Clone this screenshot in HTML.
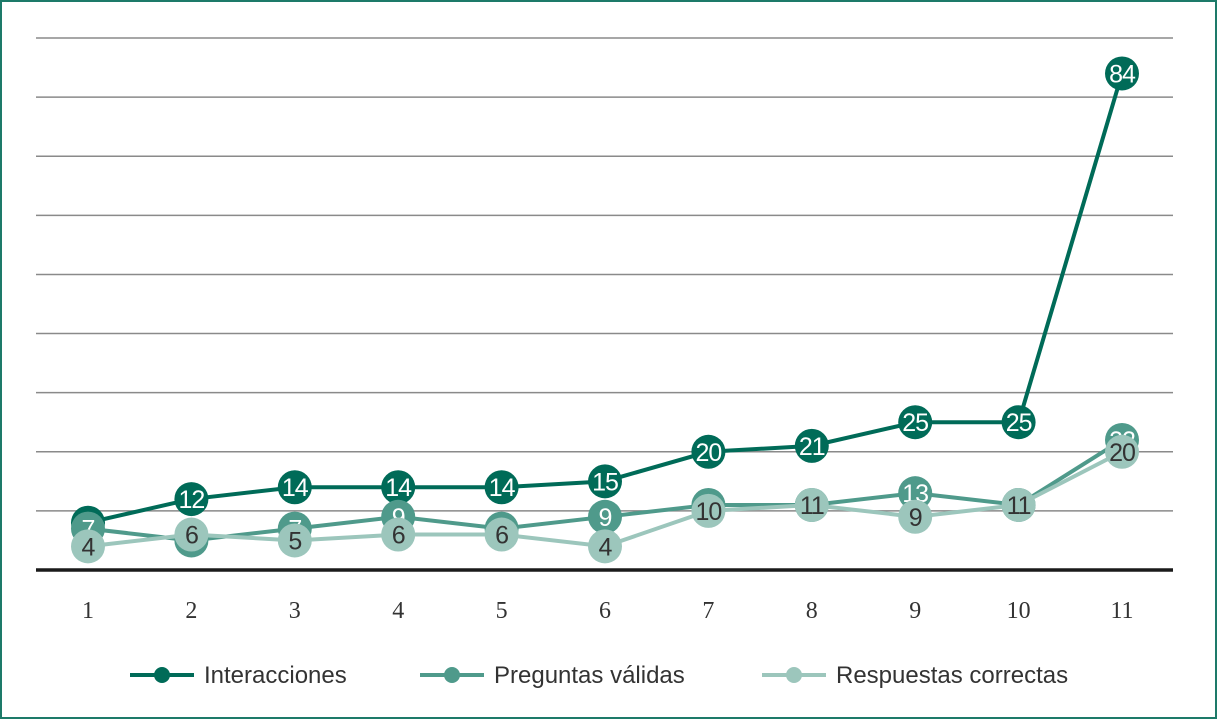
<!DOCTYPE html>
<html><head><meta charset="utf-8"><style>
body{margin:0;background:#fff;}
svg{display:block;font-family:"Liberation Sans",sans-serif;}
</style></head><body>
<svg id="chart" width="1218" height="727">
<rect x="1" y="1" width="1215" height="717" fill="#fff" stroke="#1d7a69" stroke-width="2"/>
<g id="grid"></g><g id="series"></g><g id="xaxis"></g><g id="legend"></g>
</svg>
<script>
const categories=["1","2","3","4","5","6","7","8","9","10","11"];
const interacciones=[8,12,14,14,14,15,20,21,25,25,84];
const preguntas=[7,5,7,9,7,9,11,11,13,11,22];
const respuestas=[4,6,5,6,6,4,10,11,9,11,20];
const gridTicks=[10,20,30,40,50,60,70,80,90];
const seriesNames=["Interacciones","Preguntas válidas","Respuestas correctas"];
const NS="http://www.w3.org/2000/svg";
const x0=88,x1=1122,yBase=570,yTop=38,vMax=90;
const xs=i=>x0+i*(x1-x0)/(categories.length-1);
const ys=v=>yBase-v*(yBase-yTop)/vMax;
function mk(tag,attrs,parent){const e=document.createElementNS(NS,tag);for(const k in attrs)e.setAttribute(k,attrs[k]);parent.appendChild(e);return e;}
const grid=document.getElementById('grid');
gridTicks.forEach(t=>{const l=mk('line',{x1:36,x2:1173,y1:ys(t),y2:ys(t),stroke:'#8a8a8a','stroke-width':1.5},grid);

});
const base=mk('line',{x1:36,x2:1173,y1:yBase,y2:yBase,stroke:'#1a1a1a','stroke-width':3.5},grid);


const xa=document.getElementById('xaxis');
categories.forEach((c,i)=>{const t=mk('text',{x:xs(i),y:618,'text-anchor':'middle','font-size':24,fill:'#333','font-family':'Liberation Serif, serif'},xa);t.textContent=c;

});
const sg=document.getElementById('series');
const specs=[[interacciones,'#006b58','#fff'],[preguntas,'#4f9a8b','#fff'],[respuestas,'#9cc6bc','#333']];
specs.forEach(([data,col,tc],si)=>{
 const g=mk('g',{},sg);
 
 
 const p=mk('polyline',{points:data.map((v,i)=>xs(i)+','+ys(v)).join(' '),fill:'none',stroke:col,'stroke-width':4},g);
 
 
 data.forEach((v,i)=>{
  const c=mk('circle',{cx:xs(i),cy:ys(v),r:17,fill:col},g);
  
  
  const t=mk('text',{x:xs(i),y:ys(v)+9,'text-anchor':'middle','font-size':25,'letter-spacing':-1,fill:tc},g);t.textContent=v;
  
  
 });
});
const lg=document.getElementById('legend');
const lx=[130,420,762];
specs.forEach(([d,col],i)=>{
 const g=mk('g',{},lg);
 
 
 mk('line',{x1:lx[i],x2:lx[i]+64,y1:675,y2:675,stroke:col,'stroke-width':4},g);
 mk('circle',{cx:lx[i]+32,cy:675,r:8,fill:col},g);
 const t=mk('text',{x:lx[i]+74,y:683,'font-size':24,fill:'#333'},g);t.textContent=seriesNames[i];
});
</script>
</body></html>
